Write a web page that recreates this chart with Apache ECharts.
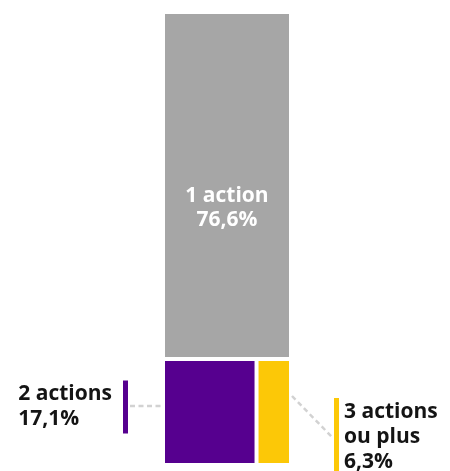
<!DOCTYPE html>
<html>
<head>
<meta charset="utf-8">
<script src="https://cdn.jsdelivr.net/npm/echarts@6/dist/echarts.min.js"></script>
<style>
  html, body { margin: 0; padding: 0; background: #fff; }
  #chart { width: 450px; height: 471px; }
</style>
</head>
<body>
<div id="chart"></div>
<script>
const categories = ['1 action', '2 actions', '3 actions\nou plus'];
const shares = [76.6, 17.1, 6.3];
const colors = ['#a6a6a6', '#56008f', '#fcc807'];

// where each label goes relative to its tile
const labelSides = ['inside', 'left', 'right'];

const GAP = 2;
const FONT = '"Open Sans", sans-serif';
const LINE_H = 25;
const dashStyle = { stroke: '#d2d2d2', lineWidth: 2.5, lineDash: [5, 3.5], fill: null };

function formatShare(v) {
  return v.toFixed(1).replace('.', ',') + '%';
}

// tiles in data space (0..100 both ways): the first share fills the top band,
// the other two split the bottom band side by side
function buildTiles() {
  const bottom = shares[1] + shares[2];
  const split = shares[1] / bottom * 100;
  return [
    [0, bottom, 100, 100],
    [0, 0, split, bottom],
    [split, 0, 100, bottom]
  ].map((box, i) => box.concat([i]));
}

function renderTile(params, api) {
  const i = api.value(4);
  const p0 = api.coord([api.value(0), api.value(3)]);
  const p1 = api.coord([api.value(2), api.value(1)]);
  const x = p0[0] + GAP;
  const y = p0[1] + GAP;
  const w = p1[0] - p0[0] - 2 * GAP;
  const h = p1[1] - p0[1] - 2 * GAP;
  const cx = x + w / 2;
  const cy = y + h / 2;
  const lines = (categories[i] + '\n' + formatShare(shares[i])).split('\n');
  const barH = lines.length * LINE_H + 3;

  const children = [{
    type: 'rect',
    shape: { x: x, y: y, width: w, height: h },
    style: { fill: colors[i] }
  }];

  if (labelSides[i] === 'inside') {
    children.push({
      type: 'text',
      style: {
        text: lines.join('\n'),
        x: cx, y: cy + 23,
        align: 'center', verticalAlign: 'middle',
        fill: '#ffffff',
        fontFamily: FONT, fontWeight: 'bold', fontSize: 21, lineHeight: 24
      }
    });
  } else if (labelSides[i] === 'left') {
    const barX = x - 42;
    const midY = cy - 5;
    children.push(
      { type: 'line', shape: { x1: barX + 7, y1: midY - 1, x2: x - 4, y2: midY - 1 }, style: dashStyle },
      { type: 'rect', shape: { x: barX, y: midY - barH / 2, width: 5, height: barH }, style: { fill: colors[i] } },
      {
        type: 'text',
        style: {
          text: lines.map((l) => '{t|' + l + '}').join('\n'),
          x: barX - 11, y: midY,
          align: 'right', verticalAlign: 'middle',
          rich: {
            t: { align: 'left', fill: '#141414', fontFamily: FONT, fontWeight: 'bold', fontSize: 21, lineHeight: LINE_H }
          }
        }
      }
    );
  } else {
    const barX = x + w + 45;
    const midY = cy + 25;
    children.push(
      { type: 'line', shape: { x1: x + w + 3, y1: y + 35, x2: barX - 2, y2: midY }, style: dashStyle },
      { type: 'rect', shape: { x: barX, y: midY - barH / 2, width: 5, height: barH }, style: { fill: colors[i] } },
      {
        type: 'text',
        style: {
          text: lines.join('\n'),
          x: barX + 10, y: midY,
          align: 'left', verticalAlign: 'middle',
          fill: '#141414',
          fontFamily: FONT, fontWeight: 'bold', fontSize: 21, lineHeight: LINE_H
        }
      }
    );
  }

  return { type: 'group', children: children };
}

const chart = echarts.init(document.getElementById('chart'), null, { renderer: 'canvas' });
chart.setOption({
  animation: false,
  grid: { left: 163, right: 159, top: 12, bottom: 6 },
  xAxis: { type: 'value', min: 0, max: 100, show: false },
  yAxis: { type: 'value', min: 0, max: 100, show: false },
  series: [{
    type: 'custom',
    clip: false,
    renderItem: renderTile,
    encode: { x: [0, 2], y: [1, 3] },
    data: buildTiles()
  }]
});
</script>
</body>
</html>
